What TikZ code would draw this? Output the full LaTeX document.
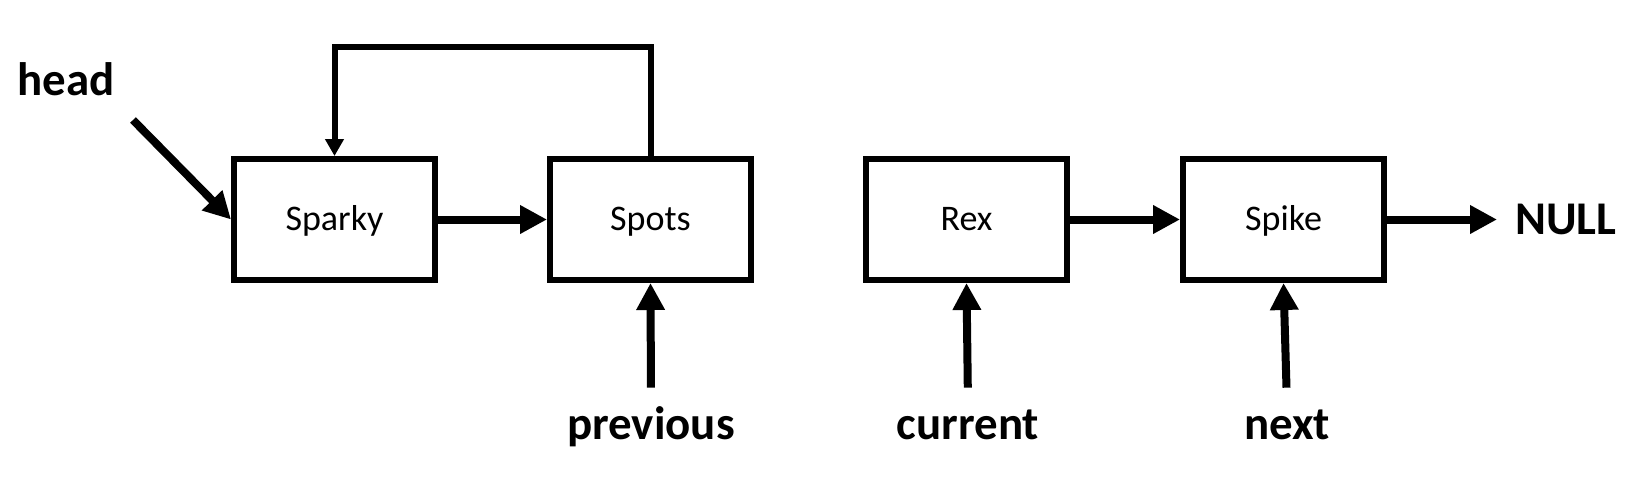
\documentclass[tikz,border=0pt]{standalone}
\usepackage{fontspec}
\setmainfont{Carlito}
\usetikzlibrary{arrows.meta}

\tikzset{
    dognode/.style={draw, line width=0.12cm, minimum width=4.02cm, minimum height=2.42cm, inner sep=0pt, text height=0.42cm, text depth=0cm, font=\fontsize{20.5}{24}\selectfont},
    ptrlabel/.style={inner sep=0pt, font=\bfseries\fontsize{26.7}{32}\selectfont},
    ptrbelow/.style={ptrlabel, text height=0.66cm, text depth=0.19cm},
    link/.style={line width=0.16cm, -{Triangle[length=0.54cm, width=0.54cm]}},
    backlink/.style={line width=0.12cm, -{Triangle[length=0.34cm, width=0.36cm]}}
}

\begin{document}
\begin{tikzpicture}[x=0.02cm, y=-0.02cm]
    \useasboundingbox (0,0) rectangle (1638,484);

    \node[dognode] (sparky) at (334.5,219.5) {Sparky};
    \node[dognode] (spots) at (650.5,219.5) {Spots};
    \node[dognode] (rex) at (966.5,219.5) {Rex};
    \node[dognode] (spike) at (1283.5,219.5) {Spike};

    \node[ptrlabel, anchor=base] (head) at (66,95) {head};
    \node[ptrbelow, anchor=base] (previous) at (651,439) {previous};
    \node[ptrbelow, anchor=base] (current) at (968,439) {current};
    \node[ptrbelow, anchor=base] (next) at (1287,439) {next};
    \node[ptrlabel, anchor=west] (null) at (1515,219.5) {NULL};

    \coordinate (headtail) at (133,120);

    \draw[link] (headtail) -- (sparky.west);
    \draw[link] (sparky) -- (spots);
    \draw[link] (rex) -- (spike);
    \draw[link, shorten >=0.36cm] (spike) -- (null);
    \draw[backlink] (spots.north) -- ++(0,-109) -| (sparky.north);

    \draw[link, shorten <=0.36cm] (previous.north) -- (spots.south);
    \draw[link, shorten <=0.36cm] (current.north) -- (rex.south);
    \draw[link, shorten <=0.36cm] (next.north) -- (spike.south);
\end{tikzpicture}
\end{document}
